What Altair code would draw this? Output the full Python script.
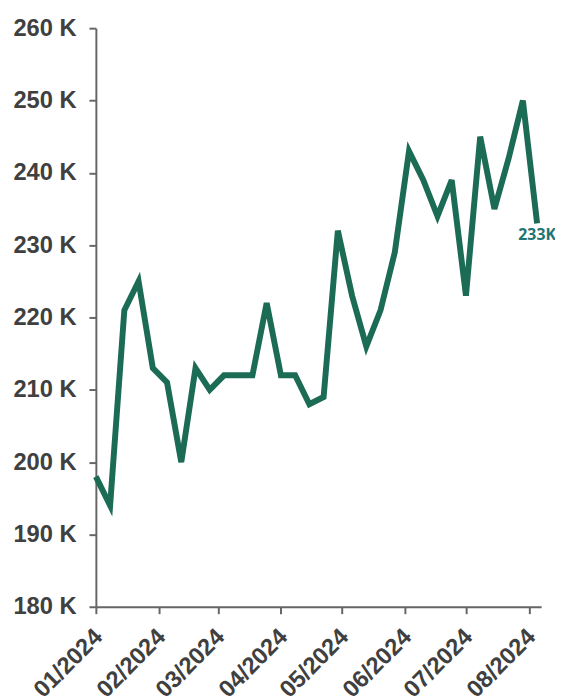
import altair as alt
import pandas as pd

dates = [
    "2024-01-01", "2024-01-08", "2024-01-15", "2024-01-22", "2024-01-29",
    "2024-02-05", "2024-02-12", "2024-02-19", "2024-02-26",
    "2024-03-04", "2024-03-11", "2024-03-18", "2024-03-25",
    "2024-04-01", "2024-04-08", "2024-04-15", "2024-04-22", "2024-04-29",
    "2024-05-06", "2024-05-13", "2024-05-20", "2024-05-27",
    "2024-06-03", "2024-06-10", "2024-06-17", "2024-06-24",
    "2024-07-01", "2024-07-08", "2024-07-15", "2024-07-22", "2024-07-29",
    "2024-08-05",
]
values = [
    198000, 194000, 221000, 225000, 213000,
    211000, 200000, 213000, 210000,
    212000, 212000, 212000, 222000,
    212000, 212000, 208000, 209000, 232000,
    223000, 216000, 221000, 229000,
    243000, 239000, 234000, 239000,
    223000, 245000, 235000, 242000, 250000,
    233000,
]
last_label = ["233K"]

df = pd.DataFrame({"date": [d + "T00:00:00" for d in dates], "value": values})
last = pd.DataFrame({"date": [dates[-1] + "T00:00:00"], "value": [values[-1]], "label": last_label})

month_ticks = [alt.DateTime(year=2024, month=m, date=1) for m in range(1, 9)]

x = alt.X(
    "date:T",
    scale=alt.Scale(domain=[alt.DateTime(year=2024, month=1, date=1),
                            alt.DateTime(year=2024, month=8, date=7)]),
    axis=alt.Axis(values=month_ticks, format="%m/%Y", labelAngle=-45, title=None,
                  grid=False, domainColor="#666666", tickColor="#666666",
                  tickSize=7, labelFont="Liberation Sans", labelFontSize=24,
                  labelFontWeight="bold", labelColor="#404040", labelPadding=11,
                  labelOffset=-6, domainWidth=2, tickWidth=2, labelOverlap=False),
)
y = alt.Y(
    "value:Q",
    scale=alt.Scale(domain=[180000, 260000], nice=False, zero=False),
    axis=alt.Axis(values=list(range(180000, 260001, 10000)),
                  labelExpr="datum.value / 1000 + ' K'", title=None, grid=False,
                  domainColor="#666666", tickColor="#666666", tickSize=7,
                  labelFont="Liberation Sans", labelFontSize=24, labelFontWeight="bold",
                  labelColor="#404040", labelPadding=13, domainWidth=2, tickWidth=2),
)

line = alt.Chart(df).mark_line(color="#1c6b55", strokeWidth=6, strokeJoin="miter").encode(x=x, y=y)
text = alt.Chart(last).mark_text(
    color="#1f7474", font="Open Sans", fontSize=16, fontWeight="bold", dy=12, dx=0
).encode(x="date:T", y="value:Q", text="label:N")

chart = (line + text).properties(
    width=451, height=586,
    padding={"left": 89, "top": 16, "right": 14, "bottom": 88},
    autosize=alt.AutoSizeParams(type="none"),
).configure_view(stroke=None)

chart.save("out.html", embed_options={"renderer": "svg", "actions": False})
